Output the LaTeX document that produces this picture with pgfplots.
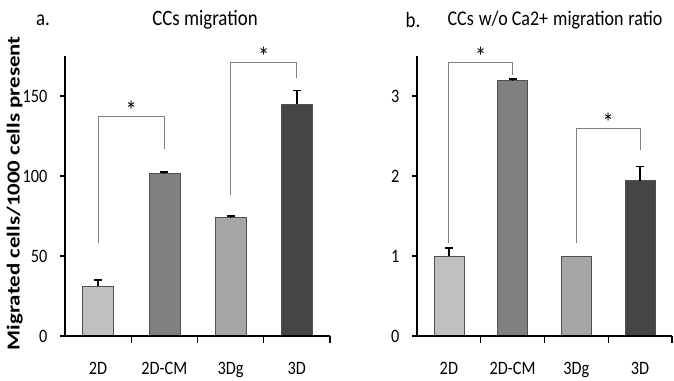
\documentclass[border=0pt]{standalone}
\usepackage{pgfplots}
\pgfplotsset{compat=1.18}
\usepackage{fontspec}
\setmainfont{Carlito}[FakeStretch=0.86]
\newfontfamily\labfont{Carlito}
\usepackage{graphicx}
\definecolor{cA}{HTML}{C0C0C0}
\definecolor{cB}{HTML}{808080}
\definecolor{cC}{HTML}{A6A6A6}
\definecolor{cD}{HTML}{454545}
\definecolor{cE}{HTML}{505050}
\tikzset{st/.style={font=\fontsize{26}{26}\selectfont}}
\pgfplotsset{
  panel/.style={
    scale only axis,
    axis on top,
    axis lines*=left,
    axis line style={line width=1.8bp,black},
    xmin=0.5, xmax=4.5, ymin=0,
    xtick={1,2,3,4},
    xticklabels={2D,2D-CM,3Dg,3D},
    minor xtick={1.5,2.5,3.5,4.5},
    major x tick style={draw=none},
    minor x tick style={line width=1.3bp,black},
    y tick style={line width=1.3bp,black},
    tick align=outside,
    major tick length=5bp,
    minor tick length=7bp,
    /pgf/number format/assume math mode=true,
    tick label style={font=\fontsize{19}{21}\selectfont},
    xticklabel style={yshift=-18bp},
    yticklabel style={xshift=-9bp},
    clip=false,
  },
  b/.style={ybar, bar shift=0pt, fill=#1, draw=cE, line width=0.6bp,
    error bars/.cd, y dir=plus, y explicit,
    error bar style={line width=1.6bp,black},
    error mark options={rotate=90, mark size=4bp, line width=1.6bp, black}},
  nb/.style={ybar, bar shift=0pt, fill=#1, draw=cE, line width=0.6bp},
  br/.style={draw=gray, line width=0.8bp, mark=none},
}
\begin{document}
\begin{tikzpicture}
\useasboundingbox (0,0) rectangle (674bp,381bp);
\begin{axis}[panel, at={(65bp,45bp)}, anchor=south west,
  width=265bp, height=280bp, ymax=175, ytick={0,50,100,150},
  bar width=31bp,
  ylabel={\labfont\bfseries\scalebox{1}[0.8]{Migrated cells/1000 cells present}},
  ylabel style={at={(axis description cs:-0.19,0.51)}, anchor=center, font=\fontsize{23}{25}\selectfont},
]
\addplot[b=cA] coordinates {(1,31) +- (0,4)};
\addplot[b=cB] coordinates {(2,101.5) +- (0,1)};
\addplot[b=cC] coordinates {(3,74) +- (0,1)};
\addplot[b=cD] coordinates {(4,145) +- (0,8.5)};
\addplot[br] coordinates {(1,58) (1,137.5) (2,137.5) (2,117)};
\addplot[br] coordinates {(3,88) (3,171) (4,171) (4,161)};
\node[st] at (axis cs:1.5,141) {*};
\node[st] at (axis cs:3.5,175) {*};
\end{axis}
\begin{axis}[panel, at={(417bp,45bp)}, anchor=south west,
  width=255bp, height=280bp, ymax=3.5, ytick={0,1,2,3},
  bar width=30bp,
]
\addplot[b=cA] coordinates {(1,1.0) +- (0,0.1)};
\addplot[b=cB] coordinates {(2,3.19) +- (0,0.02)};
\addplot[nb=cC] coordinates {(3,1.0)};
\addplot[b=cD] coordinates {(4,1.94) +- (0,0.18)};
\addplot[br] coordinates {(1,1.16) (1,3.42) (2,3.42) (2,3.26)};
\addplot[br] coordinates {(3,1.16) (3,2.59) (4,2.59) (4,2.33)};
\node[st] at (axis cs:1.5,3.5) {*};
\node[st] at (axis cs:3.5,2.67) {*};
\end{axis}
\node[font=\fontsize{22}{24}\selectfont] at (43bp,361bp) {a.};
\node[font=\fontsize{22}{24}\selectfont] at (205bp,361bp) {CCs migration};
\node[font=\fontsize{22}{24}\selectfont] at (413bp,361bp) {b.};
\node[font=\fontsize{21}{24}\selectfont] at (555bp,361bp) {CCs\hspace{5bp}w/o Ca2+\hspace{5bp}migration\hspace{5bp}ratio};
\end{tikzpicture}
\end{document}
